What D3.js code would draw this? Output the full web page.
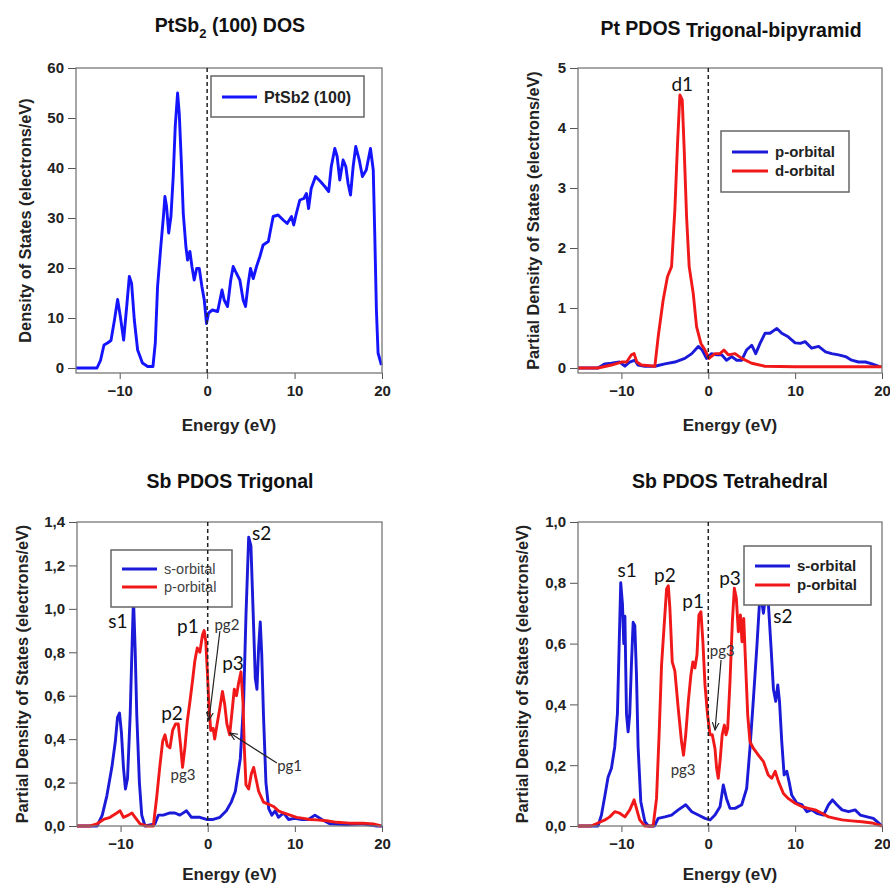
<!DOCTYPE html>
<html>
<head>
<meta charset="utf-8">
<script src="https://cdn.jsdelivr.net/npm/d3@7"></script>
<style>
  body { margin: 0; background: #fff; }
  svg { display: block; }
  .tick text { font-family: Arial, "Liberation Sans", sans-serif; font-weight: bold; font-size: 15px; fill: #222; }
  .tick line { stroke: #555; }
</style>
</head>
<body>
<svg width="890" height="886"></svg>
<script>
// energy axis ticks shared by all four panels
var energyTicks = [-10, 0, 10, 20];

// PtSb2 (100) total DOS  [energy eV, states/eV]
var totalDos = [[-15,0],[-12.6,0],[-12.2,1.5],[-11.8,4.6],[-11.4,5],[-11.0,5.5],[-10.6,9.6],[-10.24,13.7],[-9.93,10.3],[-9.55,5.6],[-9.2,12.3],[-8.9,18.3],[-8.64,16.9],[-8.33,9.6],[-7.95,3.6],[-7.4,1],[-6.8,0.3],[-6.2,0.3],[-5.93,5],[-5.67,16.3],[-5.3,24.3],[-5.0,30.3],[-4.83,34.3],[-4.64,32.3],[-4.4,27],[-4.14,30.3],[-3.88,38.3],[-3.65,48.3],[-3.38,55],[-3.19,50.9],[-2.96,41.6],[-2.73,30.9],[-2.43,24.3],[-2.24,21.6],[-1.97,23.3],[-1.74,20.3],[-1.48,17.6],[-1.2,19.9],[-0.9,19.9],[-0.6,16.3],[-0.33,13.6],[-0.07,8.9],[0.16,11],[0.6,11.6],[1.2,11.3],[1.7,15.6],[1.95,13.6],[2.33,12.3],[2.7,17.6],[2.98,20.3],[3.36,18.9],[3.74,17.6],[4.12,13.6],[4.39,12.3],[4.7,16.9],[4.96,19.9],[5.27,17.9],[5.65,20.3],[6.03,22.3],[6.4,24.6],[7.0,25.3],[7.25,27.6],[7.55,30.3],[8.12,30.6],[8.7,29.6],[9.15,28.9],[9.65,30.3],[9.9,28.6],[10.2,30.9],[10.6,33.6],[11.06,33.9],[11.36,34.9],[11.6,31.9],[11.9,35.9],[12.4,38.3],[12.96,37.3],[13.46,36.3],[13.9,35.3],[14.2,40.3],[14.6,43.9],[14.87,42.3],[15.17,37.6],[15.55,41.6],[15.86,40.3],[16.12,36.9],[16.4,34.6],[16.7,40.3],[17.0,44.3],[17.4,41.6],[17.76,38.3],[18.2,39.6],[18.68,43.9],[19.0,39.6],[19.17,26.9],[19.36,11.6],[19.55,3],[19.93,0.6]];

// Pt PDOS (trigonal-bipyramid)
var ptP = [[-15,0],[-12.7,0],[-11.9,0.07],[-11.15,0.08],[-10.2,0.1],[-9.6,0.03],[-9.04,0.1],[-8.46,0.13],[-8.1,0.05],[-7.3,0.03],[-6.15,0.03],[-5,0.07],[-3.85,0.1],[-2.7,0.16],[-1.9,0.24],[-1.15,0.36],[-0.7,0.3],[-0.2,0.16],[0.38,0.24],[0.96,0.22],[1.54,0.22],[2.1,0.13],[2.7,0.19],[3.27,0.13],[3.85,0.13],[4.4,0.3],[5,0.38],[5.46,0.24],[5.96,0.41],[6.54,0.58],[7.1,0.58],[7.9,0.66],[8.46,0.58],[9.2,0.52],[10,0.42],[10.6,0.41],[11.15,0.44],[11.9,0.33],[12.7,0.36],[13.5,0.27],[14.2,0.24],[15,0.22],[15.8,0.19],[16.5,0.13],[17.3,0.1],[18.1,0.1],[18.85,0.07],[19.8,0.02]];
var ptD = [[-15,0],[-12.7,0],[-11.15,0.05],[-10,0.1],[-9.4,0.1],[-8.85,0.22],[-8.54,0.24],[-8.23,0.1],[-7.7,0.05],[-6.15,0.03],[-5.77,0.52],[-5.2,1.13],[-4.7,1.52],[-4.23,1.69],[-3.85,2.63],[-3.54,3.74],[-3.27,4.55],[-3.0,4.47],[-2.77,3.63],[-2.5,2.52],[-2.2,1.69],[-1.73,1.24],[-1.35,0.69],[-0.85,0.41],[-0.38,0.3],[0.08,0.16],[0.77,0.24],[1.35,0.24],[1.8,0.3],[2.3,0.22],[3.08,0.24],[3.85,0.16],[5,0.08],[6.5,0.03],[10,0.02],[20,0.02]];

// Sb PDOS (trigonal)
var sbTriS = [[-15,0],[-12.7,0],[-12.1,0.05],[-11.57,0.14],[-11,0.27],[-10.6,0.39],[-10.35,0.5],[-10.12,0.52],[-9.9,0.43],[-9.67,0.27],[-9.44,0.17],[-9.2,0.22],[-8.9,0.51],[-8.71,0.79],[-8.52,1.05],[-8.33,0.82],[-8.14,0.51],[-7.84,0.2],[-7.57,0.05],[-7.2,0],[-6.05,0.01],[-5.67,0.05],[-5.1,0.05],[-4.33,0.06],[-3.76,0.06],[-3.2,0.05],[-2.43,0.07],[-1.86,0.04],[-0.9,0.04],[-0.14,0.03],[0.62,0.03],[1.4,0.04],[2.14,0.07],[2.7,0.11],[3.17,0.16],[3.74,0.31],[4.12,0.57],[4.39,0.97],[4.7,1.33],[4.96,1.29],[5.2,1.0],[5.46,0.68],[5.65,0.63],[5.84,0.82],[6.03,0.94],[6.2,0.79],[6.4,0.51],[6.68,0.2],[7.0,0.08],[7.36,0.05],[7.74,0.07],[8.12,0.04],[8.7,0.06],[9.27,0.03],[10.0,0.035],[10.8,0.03],[11.55,0.03],[12.3,0.05],[13.1,0.03],[14,0.01],[15.9,0.005],[17.8,0.01],[19.4,0],[20,0]];
var sbTriP = [[-15,0],[-13.5,0],[-12.7,0.01],[-11.95,0.03],[-11.2,0.04],[-10.43,0.06],[-10.05,0.07],[-9.67,0.04],[-9.1,0.05],[-8.7,0.06],[-8.33,0.04],[-7.76,0.01],[-7,0],[-6.24,0],[-5.86,0.13],[-5.48,0.28],[-5.17,0.39],[-4.9,0.42],[-4.64,0.37],[-4.33,0.36],[-4.03,0.44],[-3.69,0.47],[-3.38,0.47],[-3.11,0.37],[-2.89,0.27],[-2.62,0.36],[-2.35,0.48],[-2.05,0.57],[-1.74,0.67],[-1.48,0.76],[-1.2,0.82],[-0.9,0.8],[-0.6,0.88],[-0.41,0.9],[-0.22,0.85],[-0.03,0.7],[0.16,0.54],[0.35,0.44],[0.62,0.45],[0.8,0.4],[1.08,0.47],[1.38,0.54],[1.69,0.62],[1.95,0.56],[2.2,0.47],[2.52,0.42],[2.9,0.57],[3.05,0.63],[3.3,0.6],[3.55,0.66],[3.82,0.71],[4.05,0.57],[4.2,0.36],[4.39,0.19],[4.7,0.17],[5.0,0.24],[5.27,0.27],[5.53,0.22],[5.84,0.16],[6.4,0.11],[7,0.1],[7.55,0.09],[8.12,0.07],[8.7,0.06],[9.46,0.05],[10.2,0.04],[11,0.035],[11.7,0.03],[12.5,0.028],[13.65,0.024],[14.8,0.017],[16.3,0.013],[17.8,0.013],[19,0.01],[19.9,0]];

// Sb PDOS (tetrahedral)
var sbTetS = [[-15,0],[-12.7,0],[-12.3,0.036],[-11.9,0.1],[-11.54,0.16],[-11.15,0.19],[-10.77,0.26],[-10.46,0.37],[-10.27,0.585],[-10.08,0.8],[-9.88,0.73],[-9.73,0.6],[-9.6,0.69],[-9.42,0.37],[-9.23,0.31],[-9.04,0.37],[-8.85,0.53],[-8.65,0.67],[-8.46,0.66],[-8.27,0.5],[-8.08,0.26],[-7.77,0.08],[-7.3,0.014],[-6.9,0],[-6.2,0],[-5.77,0.025],[-5,0.03],[-4.23,0.036],[-3.46,0.053],[-2.6,0.07],[-1.9,0.047],[-1.15,0.036],[-0.38,0.025],[0.2,0.02],[0.77,0.036],[1.35,0.063],[1.73,0.135],[2.1,0.09],[2.5,0.058],[3.08,0.058],[3.85,0.07],[4.42,0.124],[4.8,0.256],[5.2,0.42],[5.58,0.584],[5.88,0.727],[6.15,0.74],[6.35,0.7],[6.6,0.76],[6.9,0.74],[7.23,0.585],[7.5,0.45],[7.77,0.41],[8.0,0.464],[8.2,0.41],[8.46,0.277],[8.73,0.168],[9.04,0.18],[9.3,0.146],[9.6,0.102],[10.2,0.075],[10.77,0.07],[11.35,0.047],[11.9,0.053],[12.5,0.042],[13.27,0.036],[13.85,0.07],[14.3,0.086],[14.8,0.07],[15.4,0.053],[16.15,0.047],[16.9,0.053],[17.5,0.036],[18.3,0.03],[19.0,0.025],[19.6,0.01],[20,0]];
var sbTetP = [[-15,0],[-13.5,0],[-12.7,0.01],[-11.9,0.02],[-11.35,0.03],[-10.77,0.047],[-10.2,0.042],[-9.6,0.03],[-9.04,0.053],[-8.54,0.086],[-8.27,0.058],[-7.9,0.02],[-7.3,0],[-6.35,0],[-5.96,0.09],[-5.65,0.31],[-5.38,0.53],[-5.08,0.66],[-4.8,0.78],[-4.6,0.79],[-4.42,0.716],[-4.15,0.54],[-3.85,0.51],[-3.46,0.387],[-3.08,0.277],[-2.85,0.233],[-2.6,0.3],[-2.3,0.41],[-2.0,0.497],[-1.77,0.54],[-1.54,0.52],[-1.3,0.563],[-1.08,0.694],[-0.85,0.705],[-0.62,0.606],[-0.38,0.464],[-0.08,0.365],[0.2,0.3],[0.46,0.3],[0.77,0.255],[0.96,0.19],[1.15,0.157],[1.35,0.212],[1.6,0.3],[1.85,0.332],[2.04,0.3],[2.23,0.32],[2.5,0.475],[2.77,0.672],[3.0,0.782],[3.23,0.749],[3.46,0.639],[3.7,0.694],[3.88,0.606],[4.08,0.683],[4.3,0.53],[4.54,0.365],[4.8,0.277],[5.2,0.255],[5.77,0.233],[6.35,0.212],[6.9,0.168],[7.3,0.157],[7.7,0.18],[8.08,0.146],[8.65,0.107],[9.23,0.09],[10,0.075],[10.77,0.064],[11.54,0.058],[12.3,0.053],[13.08,0.042],[13.85,0.03],[14.6,0.025],[15.4,0.02],[16.5,0.017],[17.7,0.014],[18.85,0.01],[20,0]];

// peak labels [text, energy, value]
var ptLabels = [["d1", -3.0, 4.72]];
var triLabels = [["s1",-10.3,0.944],["s2",6.2,1.35],["p1",-2.27,0.92],["p3",2.9,0.75],["p2",-4.1,0.52]];
var triGapLabels = [["pg2",2.2,0.926],["pg3",-2.84,0.235],["pg1",9.4,0.276]];
var triArrows = [[1.4,0.898,0.14,0.488],[7.94,0.29,2.55,0.428]];
var tetLabels = [["s1",-9.35,0.84],["p2",-5.0,0.826],["p1",-1.75,0.74],["p3",2.5,0.816],["s2",8.6,0.69]];
var tetGapLabels = [["pg3",1.6,0.576],["pg3",-2.9,0.184]];
var tetArrows = [[1.47,0.546,0.78,0.316]];

var svg = d3.select("svg");
var BLUE = "#1a1ad8", RED = "#f01818";
var boldFont = "Arial, 'Liberation Sans', sans-serif";
var noteFont = "Lato, 'Open Sans', sans-serif";

svg.append("defs").append("marker")
  .attr("id", "arr").attr("viewBox", "0 0 10 10").attr("refX", 9).attr("refY", 5)
  .attr("markerWidth", 7).attr("markerHeight", 7).attr("orient", "auto")
  .append("path").attr("d", "M0,1 L9,5 L0,9").attr("fill", "none").attr("stroke", "#222").attr("stroke-width", 1.4);

function panel(p) {
  var x = d3.scaleLinear().domain([-15, 20]).range([p.left, p.right]);
  var y = d3.scaleLinear().domain(p.ydom).range([p.bottom, p.top]);
  var g = svg.append("g");

  g.append("g").attr("transform", "translate(0," + p.bottom + ")")
    .call(d3.axisBottom(x).tickValues(energyTicks).tickSize(6).tickPadding(6).tickSizeOuter(0))
    .call(function(a) { a.select(".domain").remove(); });
  g.append("g").attr("transform", "translate(" + p.left + ",0)")
    .call(d3.axisLeft(y).tickValues(p.yticks).tickSize(8).tickPadding(4).tickSizeOuter(0).tickFormat(p.fmt))
    .call(function(a) { a.select(".domain").remove(); });

  var line = d3.line().x(function(d) { return x(d[0]); }).y(function(d) { return y(d[1]); });
  p.series.forEach(function(s) {
    g.append("path").datum(s.data).attr("d", line)
      .attr("fill", "none").attr("stroke", s.color).attr("stroke-width", 2.9).attr("stroke-linejoin", "round");
  });

  // legend
  var L = p.legend;
  g.append("rect").attr("x", L.x).attr("y", L.y).attr("width", L.w).attr("height", L.h)
    .attr("fill", "#fff").attr("stroke", "#666").attr("stroke-width", 1.5);
  p.series.forEach(function(s, i) {
    var yy = L.y + L.first + i * L.step;
    g.append("line").attr("x1", L.x + 11).attr("x2", L.x + 11 + L.sample).attr("y1", yy).attr("y2", yy)
      .attr("stroke", s.color).attr("stroke-width", 2.9);
    g.append("text").attr("x", L.x + 18 + L.sample).attr("y", yy).attr("dy", "0.35em")
      .attr("font-family", boldFont).attr("font-size", L.size).attr("font-weight", L.weight)
      .attr("fill", L.color).text(s.name);
  });

  // frame
  g.append("rect").attr("x", p.left).attr("y", p.top).attr("width", p.right - p.left).attr("height", p.bottom - p.top)
    .attr("fill", "none").attr("stroke", "#777").attr("stroke-width", 1.3);

  // Fermi level
  g.append("line").attr("x1", x(0)).attr("x2", x(0)).attr("y1", p.top).attr("y2", p.bottom)
    .attr("stroke", "#222").attr("stroke-width", 1.5).attr("stroke-dasharray", "4,3");

  (p.labels || []).forEach(function(l) {
    g.append("text").attr("x", x(l[1])).attr("y", y(l[2])).attr("dy", "0.35em").attr("text-anchor", "middle")
      .attr("font-family", noteFont).attr("font-size", 19).attr("fill", "#111").text(l[0]);
  });
  (p.gapLabels || []).forEach(function(l) {
    g.append("text").attr("x", x(l[1])).attr("y", y(l[2])).attr("dy", "0.35em").attr("text-anchor", "middle")
      .attr("font-family", noteFont).attr("font-size", 15).attr("fill", "#333").text(l[0]);
  });
  (p.arrows || []).forEach(function(a) {
    g.append("line").attr("x1", x(a[0])).attr("y1", y(a[1])).attr("x2", x(a[2])).attr("y2", y(a[3]))
      .attr("stroke", "#222").attr("stroke-width", 1.2).attr("marker-end", "url(#arr)");
  });

  // titles
  var t = g.append("text").attr("x", p.tx).attr("y", p.ty).attr("text-anchor", "middle")
    .attr("font-family", boldFont).attr("font-weight", "bold").attr("font-size", 19.5).attr("fill", "#111");
  p.title(t);
  g.append("text").attr("x", (p.left + p.right) / 2).attr("y", p.bottom + p.xlOff).attr("text-anchor", "middle")
    .attr("font-family", boldFont).attr("font-weight", "bold").attr("font-size", 17).attr("fill", "#222")
    .text("Energy (eV)");
  g.append("text").attr("transform", "translate(" + p.ylx + "," + ((p.top + p.bottom) / 2) + ") rotate(-90)")
    .attr("text-anchor", "middle").attr("dy", "0.35em")
    .attr("font-family", boldFont).attr("font-weight", "bold").attr("font-size", 16.3).attr("fill", "#222")
    .text(p.ylabel);
}

var comma = function(d) { return d3.format(".1f")(d).replace(".", ","); };

panel({
  left: 76, right: 382, top: 68, bottom: 373, ydom: [-1, 60], yticks: [0, 10, 20, 30, 40, 50, 60], fmt: d3.format("d"),
  series: [{ name: "PtSb2 (100)", color: "#1414ff", data: totalDos }],
  legend: { x: 211, y: 76, w: 153, h: 41, first: 21, step: 19, sample: 35, size: 16, weight: "bold", color: "#222" },
  tx: 230, ty: 32, xlOff: 58,
  title: function(t) { t.append("tspan").text("PtSb"); t.append("tspan").attr("font-size", 13).attr("dy", 6).text("2");
                       t.append("tspan").attr("dy", -6).text(" (100) DOS"); },
  ylx: 25, ylabel: "Density of States (electrons/eV)"
});

panel({
  left: 578, right: 882, top: 68, bottom: 373, ydom: [-0.083, 5], yticks: [0, 1, 2, 3, 4, 5], fmt: d3.format("d"),
  series: [{ name: "p-orbital", color: BLUE, data: ptP }, { name: "d-orbital", color: RED, data: ptD }],
  legend: { x: 721, y: 131, w: 128, h: 61, first: 21, step: 19, sample: 36, size: 15, weight: "bold", color: "#222" },
  labels: ptLabels,
  tx: 731, ty: 35, xlOff: 58,
  title: function(t) { t.append("tspan").text("Pt PDOS "); t.append("tspan").attr("dy", 2).text("Trigonal-bipyramid"); },
  ylx: 533, ylabel: "Partial Density of States (electrons/eV)"
});

panel({
  left: 77, right: 382, top: 522, bottom: 826, ydom: [0, 1.4], yticks: [0, 0.2, 0.4, 0.6, 0.8, 1.0, 1.2, 1.4], fmt: comma,
  series: [{ name: "s-orbital", color: BLUE, data: sbTriS }, { name: "p-orbital", color: RED, data: sbTriP }],
  legend: { x: 111, y: 550, w: 121, h: 57, first: 19, step: 18, sample: 35, size: 14.5, weight: "normal", color: "#444" },
  labels: triLabels, gapLabels: triGapLabels, arrows: triArrows,
  tx: 230, ty: 488, xlOff: 54,
  title: function(t) { t.text("Sb PDOS Trigonal"); },
  ylx: 22, ylabel: "Partial Density of States (electrons/eV)"
});

panel({
  left: 578, right: 882, top: 522, bottom: 826, ydom: [0, 1.0], yticks: [0, 0.2, 0.4, 0.6, 0.8, 1.0], fmt: comma,
  series: [{ name: "s-orbital", color: BLUE, data: sbTetS }, { name: "p-orbital", color: RED, data: sbTetP }],
  legend: { x: 744, y: 546, w: 127, h: 59, first: 20, step: 19, sample: 35, size: 15, weight: "bold", color: "#222" },
  labels: tetLabels, gapLabels: tetGapLabels, arrows: tetArrows,
  tx: 730, ty: 488, xlOff: 54,
  title: function(t) { t.text("Sb PDOS Tetrahedral"); },
  ylx: 522, ylabel: "Partial Density of States (electrons/eV)"
});
</script>
</body>
</html>
